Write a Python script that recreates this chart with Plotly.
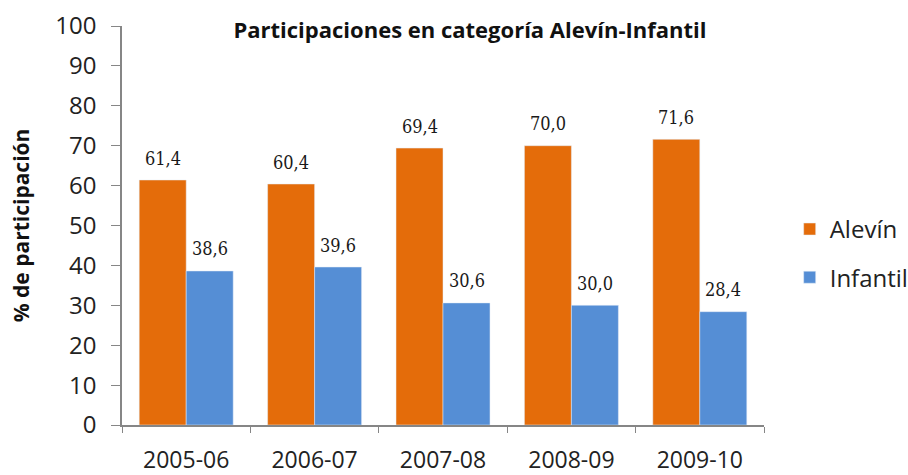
import plotly.graph_objects as go

categories = ["2005-06", "2006-07", "2007-08", "2008-09", "2009-10"]
alevin = [61.4, 60.4, 69.4, 70.0, 71.6]
infantil = [38.6, 39.6, 30.6, 30.0, 28.4]
y_ticks = [0, 10, 20, 30, 40, 50, 60, 70, 80, 90, 100]

FONT = "Open Sans, sans-serif"
LABEL_FONT = dict(size=18, color="#1a1a1a", family="DejaVu Serif Condensed, serif")

fig = go.Figure()
fig.add_trace(go.Bar(name="Alevín", x=categories, y=alevin, marker_color="#E46C0A",
                     legendgroup="a"))
fig.add_trace(go.Bar(name="Infantil", x=categories, y=infantil, marker_color="#558ED5",
                     legendgroup="b"))

# value labels above bars (formatted from the data, placed via axis coordinates)
annotations = []
for series, shift in ((alevin, -23.5), (infantil, 23.5)):
    for cat, val in zip(categories, series):
        annotations.append(dict(x=cat, y=val, xref="x", yref="y",
                                text=f"{val:.1f}".replace(".", ","),
                                showarrow=False, xshift=shift, yshift=22,
                                yanchor="middle", xanchor="center", font=LABEL_FONT))

fig.update_layout(
    width=908, height=475,
    separators=",.",
    barmode="group", bargap=0.268, bargroupgap=0,
    plot_bgcolor="white", paper_bgcolor="white",
    margin=dict(l=122, r=144, t=26, b=50, autoexpand=False),
    font=dict(family=FONT, color="#222222"),
    title=dict(text="<b>Participaciones en categoría Alevín-Infantil</b>",
               x=0.5176, xanchor="center", y=0.937, yanchor="middle",
               font=dict(size=22, family=FONT, color="#111111")),
    legend=dict(x=1.04, xanchor="left", y=0.43, yanchor="middle",
                font=dict(size=24, family=FONT, color="#222222"),
                itemwidth=30, tracegroupgap=14, bgcolor="rgba(0,0,0,0)"),
    xaxis=dict(type="category", showline=True, linecolor="#868686", linewidth=1.5,
               ticks="outside", tickson="boundaries", ticklen=6, tickcolor="#868686",
               tickfont=dict(size=23, family=FONT, color="#222222"),
               ticklabelstandoff=14, showgrid=False, automargin=False),
    yaxis=dict(range=[0, 100], tickvals=y_ticks, showline=True, linecolor="#868686", linewidth=1.5,
               ticks="outside", ticklen=9, tickcolor="#868686", showgrid=False, zeroline=False,
               tickfont=dict(size=24, family=FONT, color="#222222"), ticklabelstandoff=10,
               automargin=False,
               title=dict(text="<b>% de participación</b>", font=dict(size=21, family=FONT, color="#111111"),
                          standoff=20)),
    annotations=annotations,
)

fig.write_html("out.html", config={"displayModeBar": False},
               post_script="document.body.style.margin='0';")
